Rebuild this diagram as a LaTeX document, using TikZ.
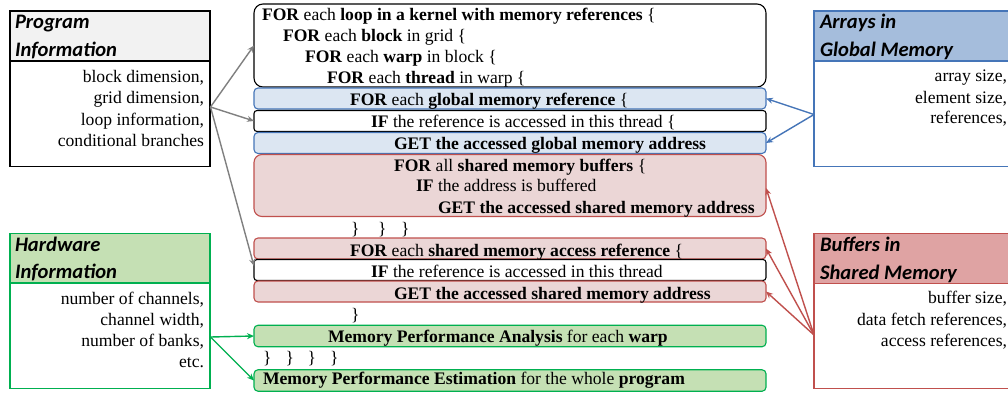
\documentclass[tikz,border=0pt]{standalone}
\usepackage{fontspec}
\setmainfont{Liberation Serif}
\newfontfamily\hdfont{Carlito}
\usetikzlibrary{arrows.meta}
\definecolor{progfill}{HTML}{F2F2F2}
\definecolor{hwfill}{HTML}{C5E0B4}
\definecolor{hwline}{HTML}{00B050}
\definecolor{glfill}{HTML}{DCE6F2}
\definecolor{glhead}{HTML}{A5BDDC}
\definecolor{glline}{HTML}{4575B8}
\definecolor{shfill}{HTML}{EBD6D6}
\definecolor{shhead}{HTML}{DFA3A3}
\definecolor{shline}{HTML}{C0504D}
\definecolor{grayarrow}{HTML}{808080}
\begin{document}
\begin{tikzpicture}[x=1pt,y=-1pt,
  every node/.style={inner sep=0pt, outer sep=0pt},
  txt/.style={font=\fontsize{17.6}{21}\selectfont, anchor=base west},
  rtxt/.style={font=\fontsize{17.6}{21}\selectfont, anchor=base east},
  hd/.style={font=\hdfont\bfseries\itshape\fontsize{20.6}{24}\selectfont, anchor=base west},
  box/.style={draw, line width=1.1pt, rounded corners=4pt, minimum width=512pt},
  wbox/.style={box, draw=black, fill=white},
  gbox/.style={box, draw=glline, fill=glfill},
  sbox/.style={box, draw=shline, fill=shfill},
  hbox/.style={box, draw=hwline, fill=hwfill},
  panel/.style={draw, line width=1.1pt, anchor=north west},
  arr/.style={line width=1.4pt, -{Stealth[length=7pt,width=6pt]}},
]
\useasboundingbox (0,0) rectangle (1008,393);
\clip (0,0) rectangle (1008,393);
\fill[white] (0,0) rectangle (1008,393);

% ---- side panels ----
\node[panel, minimum width=200pt, minimum height=155.5pt] (prog) at (10,11) {};
\node[panel, fill=progfill, minimum width=200pt, minimum height=50pt] (proghd) at (10,11) {};
\node[hd] (ph1) at (15,28.5) {Program};
\node[hd] (ph2) at (15,56.5) {Information};
\node[rtxt] (pb1) at (204,83) {block dimension,};
\node[rtxt] (pb2) at (204,104) {grid dimension,};
\node[rtxt] (pb3) at (204,125) {loop information,};
\node[rtxt] (pb4) at (204,146) {conditional branches};

\node[panel, draw=hwline, minimum width=200pt, minimum height=155pt] (hw) at (10,233.5) {};
\node[panel, draw=hwline, fill=hwfill, minimum width=200pt, minimum height=49.5pt] (hwhd) at (10,233.5) {};
\node[hd] (hh1) at (15,251) {Hardware};
\node[hd] (hh2) at (15,278.5) {Information};
\node[rtxt] (hb1) at (204,304) {number of channels,};
\node[rtxt] (hb2) at (204,325) {channel width,};
\node[rtxt] (hb3) at (204,346) {number of banks,};
\node[rtxt] (hb4) at (204,367) {etc.};

\node[panel, draw=glline, minimum width=220pt, minimum height=155.5pt] (arrs) at (814,11) {};
\node[panel, draw=glline, fill=glhead, minimum width=220pt, minimum height=50pt] (arrhd) at (814,11) {};
\node[hd] (ah1) at (820,28.5) {Arrays in};
\node[hd] (ah2) at (820,56.5) {Global Memory};
\node[rtxt] (ab1) at (1007,82) {array size,};
\node[rtxt] (ab2) at (1007,103) {element size,};
\node[rtxt] (ab3) at (1007,124) {references,};

\node[panel, draw=shline, minimum width=220pt, minimum height=155pt] (buf) at (814,233.5) {};
\node[panel, draw=shline, fill=shhead, minimum width=220pt, minimum height=50pt] (bufhd) at (814,233.5) {};
\node[hd] (bh1) at (820,251.5) {Buffers in};
\node[hd] (bh2) at (820,279) {Shared Memory};
\node[rtxt] (bb1) at (1007,303) {buffer size,};
\node[rtxt] (bb2) at (1007,325) {data fetch references,};
\node[rtxt] (bb3) at (1007,346) {access references,};

% ---- middle boxes ----
\node[wbox, rounded corners=9pt, minimum height=83pt] (b1) at (510,45.5) {};
\node[gbox, minimum height=21pt] (b2) at (510,98.5) {};
\node[wbox, rounded corners=3pt, minimum height=21pt] (b3) at (510,121) {};
\node[gbox, minimum height=21pt] (b4) at (510,143) {};
\node[sbox, rounded corners=8pt, minimum height=62pt] (b5) at (510,185.5) {};
\node[sbox, minimum height=21pt] (b6) at (510,248.5) {};
\node[wbox, rounded corners=3pt, minimum height=21pt] (b7) at (510,270) {};
\node[sbox, minimum height=21pt] (b8) at (510,291.5) {};
\node[hbox, minimum height=21.5pt] (b9) at (510,336) {};
\node[hbox, minimum height=21.5pt] (b10) at (510,380.5) {};

\node[txt] (t1) at (262,21) {\textbf{FOR} each \textbf{loop in a kernel with memory references} \{};
\node[txt] (t2) at (283,42) {\textbf{FOR} each \textbf{block} in grid \{};
\node[txt] (t3) at (305,63) {\textbf{FOR} each \textbf{warp} in block \{};
\node[txt] (t4) at (327,84) {\textbf{FOR} each \textbf{thread} in warp \{};
\node[txt] (t5) at (350,105.5) {\textbf{FOR} each \textbf{global memory reference} \{};
\node[txt] (t6) at (371,128) {\textbf{IF} the reference is accessed in this thread \{};
\node[txt] (t7) at (394,149) {\textbf{GET the accessed global memory address}};
\node[txt] (t8) at (394,171) {\textbf{FOR} all \textbf{shared memory buffers} \{};
\node[txt] (t9) at (416,191.5) {\textbf{IF} the address is buffered};
\node[txt] (t10) at (438,213) {\textbf{GET the accessed shared memory address}};
\node[txt] (c1) at (351,234.5) {\}};
\node[txt] (c2) at (378,234.5) {\}};
\node[txt] (c3) at (401,234.5) {\}};
\node[txt] (t11) at (350,256) {\textbf{FOR} each \textbf{shared memory access reference} \{};
\node[txt] (t12) at (371,277.5) {\textbf{IF} the reference is accessed in this thread};
\node[txt] (t13) at (394,299) {\textbf{GET the accessed shared memory address}};
\node[txt] (c4) at (351,320) {\}};
\node[txt] (t14) at (328,342) {\textbf{Memory Performance Analysis} for each \textbf{warp}};
\node[txt] (c5) at (263,363) {\}};
\node[txt] (c6) at (285.5,363) {\}};
\node[txt] (c7) at (307.5,363) {\}};
\node[txt] (c8) at (330,363) {\}};
\node[txt] (t15) at (263,384) {\textbf{Memory Performance Estimation} for the whole \textbf{program}};

% ---- connectors ----
\coordinate (po) at (210.5,107);
\coordinate (ho) at (210.5,337);
\coordinate (ao) at (814,114.5);
\coordinate (bo) at (814,335);
\draw[arr, grayarrow] (po) -- (b1.west);
\draw[arr, grayarrow] (po) -- (b3.west);
\draw[arr, grayarrow] (po) -- ([yshift=4pt]b7.west);
\draw[arr, hwline] (ho) -- (b9.west);
\draw[arr, hwline] (ho) -- (b10.west);
\draw[arr, glline] (ao) -- (b2.east);
\draw[arr, glline] (ao) -- (b4.east);
\draw[arr, shline] (bo) -- ([yshift=-2.5pt]b5.east);
\draw[arr, shline] (bo) -- (b6.east);
\draw[arr, shline] (bo) -- (b8.east);
\end{tikzpicture}
\end{document}
